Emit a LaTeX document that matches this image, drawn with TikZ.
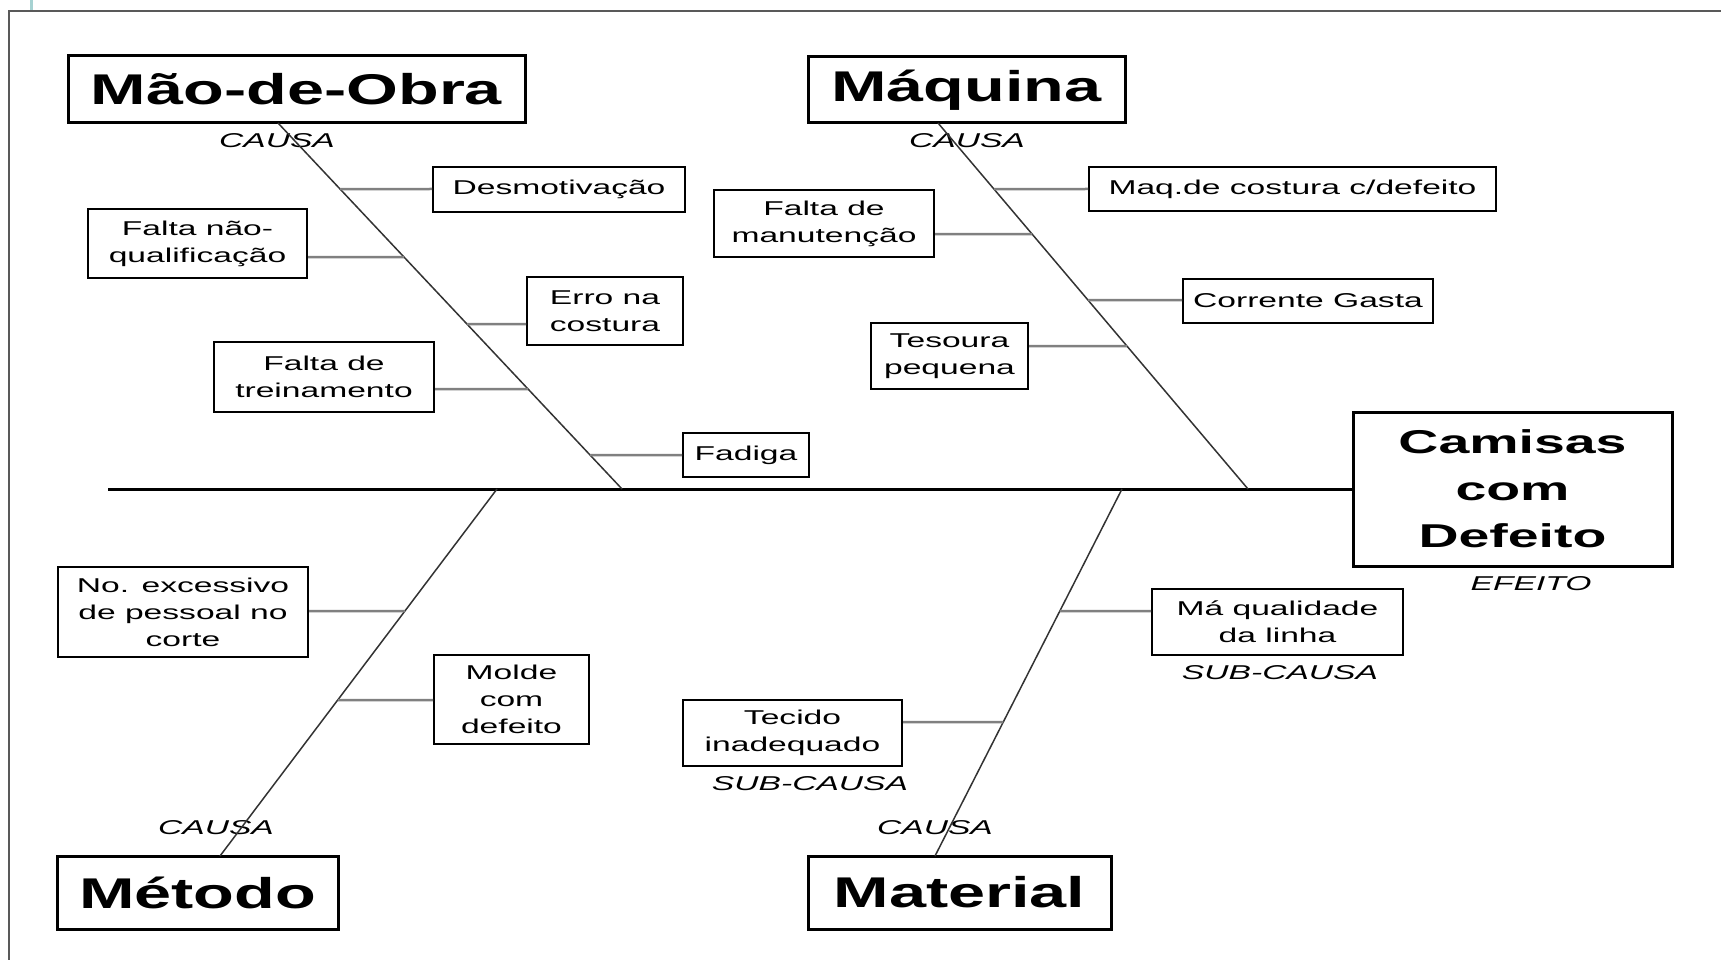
\documentclass[tikz,border=0pt]{standalone}
\usepackage{fontspec}
\setmainfont{Liberation Sans}
\newfontfamily\widefont[FakeStretch=1.68]{Liberation Sans}
\newfontfamily\titlefont[FakeStretch=1.55]{Liberation Sans}

\tikzset{
  catbox/.style={draw, line width=3pt, inner sep=0pt, font=\titlefont\bfseries\fontsize{43}{50}\selectfont},
  effbox/.style={draw, line width=3pt, inner sep=0pt, align=center, font=\widefont\bfseries\fontsize{33}{47}\selectfont},
  subbox/.style={draw, line width=2pt, inner sep=0pt, align=center, font=\widefont\fontsize{20}{27}\selectfont},
  tagtext/.style={inner sep=0pt, font=\widefont\itshape\fontsize{20}{24}\selectfont},
  bone/.style={line width=3pt},
  spine/.style={line width=1.5pt, black!80},
  twig/.style={line width=2.5pt, gray}
}

\begin{document}
\begin{tikzpicture}[x=1pt, y=-1pt]
\useasboundingbox (0,0) rectangle (1721,960);
\draw [line width=2pt, black!65] (9,960) -- (9,11) -- (1721,11);
\fill [teal!35] (30,0) rectangle (33,10);

\node [catbox, minimum width=457, minimum height=67] (mo) at (296.5,89.5) {Mão-de-Obra};
\node [tagtext] (mocausa) at (277,141) {CAUSA};
\node [catbox, minimum width=317, minimum height=66] (mq) at (966.5,90) {Máquina};
\node [tagtext] (mqcausa) at (967,141) {CAUSA};
\node [catbox, minimum width=281, minimum height=73] (mt) at (197.5,892.5) {Método};
\node [tagtext] (mtcausa) at (216,828) {CAUSA};
\node [catbox, minimum width=303, minimum height=73] (ml) at (959.5,892.5) {Material};
\node [tagtext] (mlcausa) at (935,828) {CAUSA};

\node [effbox, minimum width=319, minimum height=154] (ef) at (1512.5,489) {Camisas\\com\\Defeito};
\node [tagtext] (efeito) at (1531,584) {EFEITO};

\node [subbox, minimum width=252, minimum height=45] (desm) at (559,189.5) {Desmotivação};
\node [subbox, minimum width=219, minimum height=69] (fnq) at (197.5,243.5) {Falta não-\\qualificação};
\node [subbox, minimum width=156, minimum height=68] (erro) at (605,311) {Erro na\\costura};
\node [subbox, minimum width=220, minimum height=70] (ftr) at (324,377) {Falta de\\treinamento};
\node [subbox, minimum width=126, minimum height=44] (fad) at (746,455) {Fadiga};

\node [subbox, minimum width=407, minimum height=44] (mcd) at (1292.5,189) {Maq.de costura c/defeito};
\node [subbox, minimum width=220, minimum height=67] (fman) at (824,223.5) {Falta de\\manutenção};
\node [subbox, minimum width=250, minimum height=44] (cgas) at (1308,301) {Corrente Gasta};
\node [subbox, minimum width=157, minimum height=66] (tes) at (949.5,356) {Tesoura\\pequena};

\node [subbox, minimum width=250, minimum height=90] (noex) at (183,612) {No. excessivo\\de pessoal no\\corte};
\node [subbox, minimum width=155, minimum height=89] (mol) at (511.5,699.5) {Molde\\com\\defeito};

\node [subbox, minimum width=219, minimum height=66] (tec) at (792.5,733) {Tecido\\inadequado};
\node [tagtext] (tecsub) at (810,784) {SUB-CAUSA};
\node [subbox, minimum width=251, minimum height=66] (maql) at (1277.5,622) {Má qualidade\\da linha};
\node [tagtext] (maqlsub) at (1280,673) {SUB-CAUSA};

\coordinate (tail) at (108,489);
\coordinate (motop) at (278,123);
\coordinate (mobot) at (622,489);
\coordinate (mqtop) at (938,123);
\coordinate (mqbot) at (1248,489);
\coordinate (mttop) at (497,489);
\coordinate (mtbot) at (220,856);
\coordinate (mltop) at (1122,489);
\coordinate (mlbot) at (935,856);

\draw [bone] (tail) -- (ef.west);
\draw [spine] (motop) -- (mobot);
\draw [spine] (mqtop) -- (mqbot);
\draw [spine] (mttop) -- (mtbot);
\draw [spine] (mltop) -- (mlbot);

\draw [twig] (desm.west |- 0,189) -- (intersection of motop--mobot and 0,189--1,189);
\draw [twig] (fnq.east |- 0,257) -- (intersection of motop--mobot and 0,257--1,257);
\draw [twig] (erro.west |- 0,324) -- (intersection of motop--mobot and 0,324--1,324);
\draw [twig] (ftr.east |- 0,389) -- (intersection of motop--mobot and 0,389--1,389);
\draw [twig] (fad.west |- 0,455) -- (intersection of motop--mobot and 0,455--1,455);

\draw [twig] (mcd.west |- 0,189) -- (intersection of mqtop--mqbot and 0,189--1,189);
\draw [twig] (fman.east |- 0,234) -- (intersection of mqtop--mqbot and 0,234--1,234);
\draw [twig] (cgas.west |- 0,300) -- (intersection of mqtop--mqbot and 0,300--1,300);
\draw [twig] (tes.east |- 0,346) -- (intersection of mqtop--mqbot and 0,346--1,346);

\draw [twig] (noex.east |- 0,611) -- (intersection of mttop--mtbot and 0,611--1,611);
\draw [twig] (mol.west |- 0,700) -- (intersection of mttop--mtbot and 0,700--1,700);

\draw [twig] (tec.east |- 0,722) -- (intersection of mltop--mlbot and 0,722--1,722);
\draw [twig] (maql.west |- 0,611) -- (intersection of mltop--mlbot and 0,611--1,611);
\end{tikzpicture}
\end{document}
